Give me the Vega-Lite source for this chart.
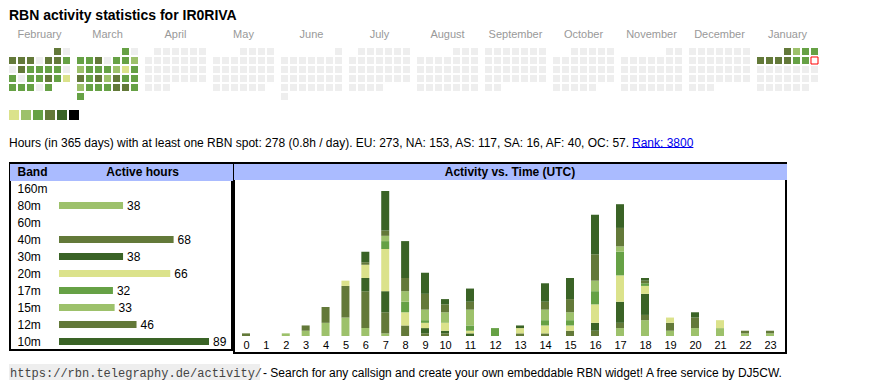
{
  "$schema": "https://vega.github.io/schema/vega-lite/v6.json",
  "background": "white",
  "padding": {"left": 8, "top": 8, "right": 0, "bottom": 0},
  "config": {"font": "Liberation Sans", "view": {"stroke": null}},
  "spacing": 10,
  "resolve": {"scale": {"color": "independent"}},
  "vconcat": [
    {
      "title": {"text": "RBN activity statistics for IR0RIVA", "anchor": "start", "fontSize": 14, "fontWeight": "bold", "color": "#000000", "offset": 6},
      "width": 809,
      "height": 52,
      "data": {"values": [
        {"month":"February","wd":5,"week":0,"level":4},{"month":"February","wd":6,"week":0,"level":0},
        {"month":"February","wd":0,"week":1,"level":4},{"month":"February","wd":1,"week":1,"level":4},{"month":"February","wd":2,"week":1,"level":4},{"month":"February","wd":3,"week":1,"level":0},{"month":"February","wd":4,"week":1,"level":4},{"month":"February","wd":5,"week":1,"level":4},{"month":"February","wd":6,"week":1,"level":3},
        {"month":"February","wd":0,"week":2,"level":0},{"month":"February","wd":1,"week":2,"level":4},{"month":"February","wd":2,"week":2,"level":3},{"month":"February","wd":3,"week":2,"level":3},{"month":"February","wd":4,"week":2,"level":3},{"month":"February","wd":5,"week":2,"level":3},{"month":"February","wd":6,"week":2,"level":0},
        {"month":"February","wd":0,"week":3,"level":3},{"month":"February","wd":1,"week":3,"level":0},{"month":"February","wd":2,"week":3,"level":3},{"month":"February","wd":3,"week":3,"level":3},{"month":"February","wd":4,"week":3,"level":4},{"month":"February","wd":5,"week":3,"level":3},{"month":"February","wd":6,"week":3,"level":1},
        {"month":"February","wd":0,"week":4,"level":3},{"month":"February","wd":1,"week":4,"level":3},{"month":"February","wd":2,"week":4,"level":3},{"month":"February","wd":3,"week":4,"level":0},{"month":"February","wd":4,"week":4,"level":3},
        {"month":"March","wd":5,"week":0,"level":3},{"month":"March","wd":6,"week":0,"level":0},
        {"month":"March","wd":0,"week":1,"level":3},{"month":"March","wd":1,"week":1,"level":3},{"month":"March","wd":2,"week":1,"level":4},{"month":"March","wd":3,"week":1,"level":0},{"month":"March","wd":4,"week":1,"level":3},{"month":"March","wd":5,"week":1,"level":3},{"month":"March","wd":6,"week":1,"level":2},
        {"month":"March","wd":0,"week":2,"level":2},{"month":"March","wd":1,"week":2,"level":3},{"month":"March","wd":2,"week":2,"level":3},{"month":"March","wd":3,"week":2,"level":3},{"month":"March","wd":4,"week":2,"level":2},{"month":"March","wd":5,"week":2,"level":1},{"month":"March","wd":6,"week":2,"level":3},
        {"month":"March","wd":0,"week":3,"level":4},{"month":"March","wd":1,"week":3,"level":3},{"month":"March","wd":2,"week":3,"level":4},{"month":"March","wd":3,"week":3,"level":2},{"month":"March","wd":4,"week":3,"level":4},{"month":"March","wd":5,"week":3,"level":3},{"month":"March","wd":6,"week":3,"level":3},
        {"month":"March","wd":0,"week":4,"level":2},{"month":"March","wd":1,"week":4,"level":3},{"month":"March","wd":2,"week":4,"level":3},{"month":"March","wd":3,"week":4,"level":3},{"month":"March","wd":4,"week":4,"level":4},{"month":"March","wd":5,"week":4,"level":4},{"month":"March","wd":6,"week":4,"level":3},
        {"month":"March","wd":0,"week":5,"level":3},
        {"month":"April","wd":1,"week":0,"level":0},{"month":"April","wd":2,"week":0,"level":0},{"month":"April","wd":3,"week":0,"level":0},{"month":"April","wd":4,"week":0,"level":0},{"month":"April","wd":5,"week":0,"level":0},{"month":"April","wd":6,"week":0,"level":0},
        {"month":"April","wd":0,"week":1,"level":0},{"month":"April","wd":1,"week":1,"level":0},{"month":"April","wd":2,"week":1,"level":0},{"month":"April","wd":3,"week":1,"level":0},{"month":"April","wd":4,"week":1,"level":0},{"month":"April","wd":5,"week":1,"level":0},{"month":"April","wd":6,"week":1,"level":0},
        {"month":"April","wd":0,"week":2,"level":0},{"month":"April","wd":1,"week":2,"level":0},{"month":"April","wd":2,"week":2,"level":0},{"month":"April","wd":3,"week":2,"level":0},{"month":"April","wd":4,"week":2,"level":0},{"month":"April","wd":5,"week":2,"level":0},{"month":"April","wd":6,"week":2,"level":0},
        {"month":"April","wd":0,"week":3,"level":0},{"month":"April","wd":1,"week":3,"level":0},{"month":"April","wd":2,"week":3,"level":0},{"month":"April","wd":3,"week":3,"level":0},{"month":"April","wd":4,"week":3,"level":0},{"month":"April","wd":5,"week":3,"level":0},{"month":"April","wd":6,"week":3,"level":0},
        {"month":"April","wd":0,"week":4,"level":0},{"month":"April","wd":1,"week":4,"level":0},{"month":"April","wd":2,"week":4,"level":0},
        {"month":"May","wd":3,"week":0,"level":0},{"month":"May","wd":4,"week":0,"level":0},{"month":"May","wd":5,"week":0,"level":0},{"month":"May","wd":6,"week":0,"level":0},
        {"month":"May","wd":0,"week":1,"level":0},{"month":"May","wd":1,"week":1,"level":0},{"month":"May","wd":2,"week":1,"level":0},{"month":"May","wd":3,"week":1,"level":0},{"month":"May","wd":4,"week":1,"level":0},{"month":"May","wd":5,"week":1,"level":0},{"month":"May","wd":6,"week":1,"level":0},
        {"month":"May","wd":0,"week":2,"level":0},{"month":"May","wd":1,"week":2,"level":0},{"month":"May","wd":2,"week":2,"level":0},{"month":"May","wd":3,"week":2,"level":0},{"month":"May","wd":4,"week":2,"level":0},{"month":"May","wd":5,"week":2,"level":0},{"month":"May","wd":6,"week":2,"level":0},
        {"month":"May","wd":0,"week":3,"level":0},{"month":"May","wd":1,"week":3,"level":0},{"month":"May","wd":2,"week":3,"level":0},{"month":"May","wd":3,"week":3,"level":0},{"month":"May","wd":4,"week":3,"level":0},{"month":"May","wd":5,"week":3,"level":0},{"month":"May","wd":6,"week":3,"level":0},
        {"month":"May","wd":0,"week":4,"level":0},{"month":"May","wd":1,"week":4,"level":0},{"month":"May","wd":2,"week":4,"level":0},{"month":"May","wd":3,"week":4,"level":0},{"month":"May","wd":4,"week":4,"level":0},{"month":"May","wd":5,"week":4,"level":0},
        {"month":"June","wd":6,"week":0,"level":0},
        {"month":"June","wd":0,"week":1,"level":0},{"month":"June","wd":1,"week":1,"level":0},{"month":"June","wd":2,"week":1,"level":0},{"month":"June","wd":3,"week":1,"level":0},{"month":"June","wd":4,"week":1,"level":0},{"month":"June","wd":5,"week":1,"level":0},{"month":"June","wd":6,"week":1,"level":0},
        {"month":"June","wd":0,"week":2,"level":0},{"month":"June","wd":1,"week":2,"level":0},{"month":"June","wd":2,"week":2,"level":0},{"month":"June","wd":3,"week":2,"level":0},{"month":"June","wd":4,"week":2,"level":0},{"month":"June","wd":5,"week":2,"level":0},{"month":"June","wd":6,"week":2,"level":0},
        {"month":"June","wd":0,"week":3,"level":0},{"month":"June","wd":1,"week":3,"level":0},{"month":"June","wd":2,"week":3,"level":0},{"month":"June","wd":3,"week":3,"level":0},{"month":"June","wd":4,"week":3,"level":0},{"month":"June","wd":5,"week":3,"level":0},{"month":"June","wd":6,"week":3,"level":0},
        {"month":"June","wd":0,"week":4,"level":0},{"month":"June","wd":1,"week":4,"level":0},{"month":"June","wd":2,"week":4,"level":0},{"month":"June","wd":3,"week":4,"level":0},{"month":"June","wd":4,"week":4,"level":0},{"month":"June","wd":5,"week":4,"level":0},{"month":"June","wd":6,"week":4,"level":0},
        {"month":"June","wd":0,"week":5,"level":0},
        {"month":"July","wd":1,"week":0,"level":0},{"month":"July","wd":2,"week":0,"level":0},{"month":"July","wd":3,"week":0,"level":0},{"month":"July","wd":4,"week":0,"level":0},{"month":"July","wd":5,"week":0,"level":0},{"month":"July","wd":6,"week":0,"level":0},
        {"month":"July","wd":0,"week":1,"level":0},{"month":"July","wd":1,"week":1,"level":0},{"month":"July","wd":2,"week":1,"level":0},{"month":"July","wd":3,"week":1,"level":0},{"month":"July","wd":4,"week":1,"level":0},{"month":"July","wd":5,"week":1,"level":0},{"month":"July","wd":6,"week":1,"level":0},
        {"month":"July","wd":0,"week":2,"level":0},{"month":"July","wd":1,"week":2,"level":0},{"month":"July","wd":2,"week":2,"level":0},{"month":"July","wd":3,"week":2,"level":0},{"month":"July","wd":4,"week":2,"level":0},{"month":"July","wd":5,"week":2,"level":0},{"month":"July","wd":6,"week":2,"level":0},
        {"month":"July","wd":0,"week":3,"level":0},{"month":"July","wd":1,"week":3,"level":0},{"month":"July","wd":2,"week":3,"level":0},{"month":"July","wd":3,"week":3,"level":0},{"month":"July","wd":4,"week":3,"level":0},{"month":"July","wd":5,"week":3,"level":0},{"month":"July","wd":6,"week":3,"level":0},
        {"month":"July","wd":0,"week":4,"level":0},{"month":"July","wd":1,"week":4,"level":0},{"month":"July","wd":2,"week":4,"level":0},{"month":"July","wd":3,"week":4,"level":0},
        {"month":"August","wd":4,"week":0,"level":0},{"month":"August","wd":5,"week":0,"level":0},{"month":"August","wd":6,"week":0,"level":0},
        {"month":"August","wd":0,"week":1,"level":0},{"month":"August","wd":1,"week":1,"level":0},{"month":"August","wd":2,"week":1,"level":0},{"month":"August","wd":3,"week":1,"level":0},{"month":"August","wd":4,"week":1,"level":0},{"month":"August","wd":5,"week":1,"level":0},{"month":"August","wd":6,"week":1,"level":0},
        {"month":"August","wd":0,"week":2,"level":0},{"month":"August","wd":1,"week":2,"level":0},{"month":"August","wd":2,"week":2,"level":0},{"month":"August","wd":3,"week":2,"level":0},{"month":"August","wd":4,"week":2,"level":0},{"month":"August","wd":5,"week":2,"level":0},{"month":"August","wd":6,"week":2,"level":0},
        {"month":"August","wd":0,"week":3,"level":0},{"month":"August","wd":1,"week":3,"level":0},{"month":"August","wd":2,"week":3,"level":0},{"month":"August","wd":3,"week":3,"level":0},{"month":"August","wd":4,"week":3,"level":0},{"month":"August","wd":5,"week":3,"level":0},{"month":"August","wd":6,"week":3,"level":0},
        {"month":"August","wd":0,"week":4,"level":0},{"month":"August","wd":1,"week":4,"level":0},{"month":"August","wd":2,"week":4,"level":0},{"month":"August","wd":3,"week":4,"level":0},{"month":"August","wd":4,"week":4,"level":0},{"month":"August","wd":5,"week":4,"level":0},{"month":"August","wd":6,"week":4,"level":0},
        {"month":"September","wd":0,"week":0,"level":0},{"month":"September","wd":1,"week":0,"level":0},{"month":"September","wd":2,"week":0,"level":0},{"month":"September","wd":3,"week":0,"level":0},{"month":"September","wd":4,"week":0,"level":0},{"month":"September","wd":5,"week":0,"level":0},{"month":"September","wd":6,"week":0,"level":0},
        {"month":"September","wd":0,"week":1,"level":0},{"month":"September","wd":1,"week":1,"level":0},{"month":"September","wd":2,"week":1,"level":0},{"month":"September","wd":3,"week":1,"level":0},{"month":"September","wd":4,"week":1,"level":0},{"month":"September","wd":5,"week":1,"level":0},{"month":"September","wd":6,"week":1,"level":0},
        {"month":"September","wd":0,"week":2,"level":0},{"month":"September","wd":1,"week":2,"level":0},{"month":"September","wd":2,"week":2,"level":0},{"month":"September","wd":3,"week":2,"level":0},{"month":"September","wd":4,"week":2,"level":0},{"month":"September","wd":5,"week":2,"level":0},{"month":"September","wd":6,"week":2,"level":0},
        {"month":"September","wd":0,"week":3,"level":0},{"month":"September","wd":1,"week":3,"level":0},{"month":"September","wd":2,"week":3,"level":0},{"month":"September","wd":3,"week":3,"level":0},{"month":"September","wd":4,"week":3,"level":0},{"month":"September","wd":5,"week":3,"level":0},{"month":"September","wd":6,"week":3,"level":0},
        {"month":"September","wd":0,"week":4,"level":0},{"month":"September","wd":1,"week":4,"level":0},
        {"month":"October","wd":2,"week":0,"level":0},{"month":"October","wd":3,"week":0,"level":0},{"month":"October","wd":4,"week":0,"level":0},{"month":"October","wd":5,"week":0,"level":0},{"month":"October","wd":6,"week":0,"level":0},
        {"month":"October","wd":0,"week":1,"level":0},{"month":"October","wd":1,"week":1,"level":0},{"month":"October","wd":2,"week":1,"level":0},{"month":"October","wd":3,"week":1,"level":0},{"month":"October","wd":4,"week":1,"level":0},{"month":"October","wd":5,"week":1,"level":0},{"month":"October","wd":6,"week":1,"level":0},
        {"month":"October","wd":0,"week":2,"level":0},{"month":"October","wd":1,"week":2,"level":0},{"month":"October","wd":2,"week":2,"level":0},{"month":"October","wd":3,"week":2,"level":0},{"month":"October","wd":4,"week":2,"level":0},{"month":"October","wd":5,"week":2,"level":0},{"month":"October","wd":6,"week":2,"level":0},
        {"month":"October","wd":0,"week":3,"level":0},{"month":"October","wd":1,"week":3,"level":0},{"month":"October","wd":2,"week":3,"level":0},{"month":"October","wd":3,"week":3,"level":0},{"month":"October","wd":4,"week":3,"level":0},{"month":"October","wd":5,"week":3,"level":0},{"month":"October","wd":6,"week":3,"level":0},
        {"month":"October","wd":0,"week":4,"level":0},{"month":"October","wd":1,"week":4,"level":0},{"month":"October","wd":2,"week":4,"level":0},{"month":"October","wd":3,"week":4,"level":0},{"month":"October","wd":4,"week":4,"level":0},
        {"month":"November","wd":5,"week":0,"level":0},{"month":"November","wd":6,"week":0,"level":0},
        {"month":"November","wd":0,"week":1,"level":0},{"month":"November","wd":1,"week":1,"level":0},{"month":"November","wd":2,"week":1,"level":0},{"month":"November","wd":3,"week":1,"level":0},{"month":"November","wd":4,"week":1,"level":0},{"month":"November","wd":5,"week":1,"level":0},{"month":"November","wd":6,"week":1,"level":0},
        {"month":"November","wd":0,"week":2,"level":0},{"month":"November","wd":1,"week":2,"level":0},{"month":"November","wd":2,"week":2,"level":0},{"month":"November","wd":3,"week":2,"level":0},{"month":"November","wd":4,"week":2,"level":0},{"month":"November","wd":5,"week":2,"level":0},{"month":"November","wd":6,"week":2,"level":0},
        {"month":"November","wd":0,"week":3,"level":0},{"month":"November","wd":1,"week":3,"level":0},{"month":"November","wd":2,"week":3,"level":0},{"month":"November","wd":3,"week":3,"level":0},{"month":"November","wd":4,"week":3,"level":0},{"month":"November","wd":5,"week":3,"level":0},{"month":"November","wd":6,"week":3,"level":0},
        {"month":"November","wd":0,"week":4,"level":0},{"month":"November","wd":1,"week":4,"level":0},{"month":"November","wd":2,"week":4,"level":0},{"month":"November","wd":3,"week":4,"level":0},{"month":"November","wd":4,"week":4,"level":0},{"month":"November","wd":5,"week":4,"level":0},{"month":"November","wd":6,"week":4,"level":0},
        {"month":"December","wd":0,"week":0,"level":0},{"month":"December","wd":1,"week":0,"level":0},{"month":"December","wd":2,"week":0,"level":0},{"month":"December","wd":3,"week":0,"level":0},{"month":"December","wd":4,"week":0,"level":0},{"month":"December","wd":5,"week":0,"level":0},{"month":"December","wd":6,"week":0,"level":0},
        {"month":"December","wd":0,"week":1,"level":0},{"month":"December","wd":1,"week":1,"level":0},{"month":"December","wd":2,"week":1,"level":0},{"month":"December","wd":3,"week":1,"level":0},{"month":"December","wd":4,"week":1,"level":0},{"month":"December","wd":5,"week":1,"level":0},{"month":"December","wd":6,"week":1,"level":0},
        {"month":"December","wd":0,"week":2,"level":0},{"month":"December","wd":1,"week":2,"level":0},{"month":"December","wd":2,"week":2,"level":0},{"month":"December","wd":3,"week":2,"level":0},{"month":"December","wd":4,"week":2,"level":0},{"month":"December","wd":5,"week":2,"level":0},{"month":"December","wd":6,"week":2,"level":0},
        {"month":"December","wd":0,"week":3,"level":0},{"month":"December","wd":1,"week":3,"level":0},{"month":"December","wd":2,"week":3,"level":0},{"month":"December","wd":3,"week":3,"level":0},{"month":"December","wd":4,"week":3,"level":0},{"month":"December","wd":5,"week":3,"level":0},{"month":"December","wd":6,"week":3,"level":0},
        {"month":"December","wd":0,"week":4,"level":0},{"month":"December","wd":1,"week":4,"level":0},{"month":"December","wd":2,"week":4,"level":0},
        {"month":"January","wd":3,"week":0,"level":4},{"month":"January","wd":4,"week":0,"level":2},{"month":"January","wd":5,"week":0,"level":3},{"month":"January","wd":6,"week":0,"level":3},
        {"month":"January","wd":0,"week":1,"level":4},{"month":"January","wd":1,"week":1,"level":4},{"month":"January","wd":2,"week":1,"level":4},{"month":"January","wd":3,"week":1,"level":4},{"month":"January","wd":4,"week":1,"level":3},{"month":"January","wd":5,"week":1,"level":3},{"month":"January","wd":6,"week":1,"level":0,"today":true},
        {"month":"January","wd":0,"week":2,"level":0},{"month":"January","wd":1,"week":2,"level":0},{"month":"January","wd":2,"week":2,"level":0},{"month":"January","wd":3,"week":2,"level":0},{"month":"January","wd":4,"week":2,"level":0},{"month":"January","wd":5,"week":2,"level":0},{"month":"January","wd":6,"week":2,"level":0},
        {"month":"January","wd":0,"week":3,"level":0},{"month":"January","wd":1,"week":3,"level":0},{"month":"January","wd":2,"week":3,"level":0},{"month":"January","wd":3,"week":3,"level":0},{"month":"January","wd":4,"week":3,"level":0},{"month":"January","wd":5,"week":3,"level":0},{"month":"January","wd":6,"week":3,"level":0},
        {"month":"January","wd":0,"week":4,"level":0},{"month":"January","wd":1,"week":4,"level":0},{"month":"January","wd":2,"week":4,"level":0},{"month":"January","wd":3,"week":4,"level":0},{"month":"January","wd":4,"week":4,"level":0},{"month":"January","wd":5,"week":4,"level":0}
      ]},
      "mark": {"type": "rect", "stroke": "#ff0000"},
      "encoding": {
        "x": {"field": "month", "type": "nominal",
          "scale": {"domain": ["February","March","April","May","June","July","August","September","October","November","December","January"], "range": [-1, 808], "paddingInner": 0.10294, "paddingOuter": 0},
          "axis": {"orient": "top", "title": null, "domain": false, "ticks": false, "tickSize": 0, "grid": false, "labelPadding": 10.5, "labelBaseline": "alphabetic", "labelFontSize": 11, "labelColor": "#999999", "labelFont": "Liberation Sans", "labelAngle": 0}},
        "xOffset": {"field": "wd", "type": "ordinal", "scale": {"domain": [0,1,2,3,4,5,6], "paddingInner": 0.2222, "paddingOuter": 0}},
        "y": {"field": "week", "type": "ordinal", "scale": {"domain": [0,1,2,3,4,5], "paddingInner": 0.2222, "paddingOuter": 0}, "axis": null},
        "color": {"condition": {"test": "datum.today", "value": "#ffffff"}, "field": "level", "type": "ordinal",
          "scale": {"domain": [0,1,2,3,4,5,6], "range": ["#eeeeee","#dbe28b","#9dc16b","#66a145","#637939","#3a6326","#000000"]}, "legend": null},
        "strokeWidth": {"condition": {"test": "datum.today", "value": 1}, "value": 0}
      }
    },
    {
      "width": 70,
      "height": 10,
      "data": {"values": [{"level":1},{"level":2},{"level":3},{"level":4},{"level":5},{"level":6}]},
      "mark": {"type": "rect"},
      "encoding": {
        "x": {"field": "level", "type": "ordinal", "scale": {"range": [-1, 69], "paddingInner": 0.16667, "paddingOuter": 0}, "axis": null},
        "color": {"field": "level", "type": "ordinal", "scale": {"domain": [1,2,3,4,5,6], "range": ["#dbe28b","#9dc16b","#66a145","#637939","#3a6326","#000000"]}, "legend": null}
      }
    },
    {
      "width": 776,
      "height": 22,
      "data": {"values": [
        {"part": "stats", "text": "Hours (in 365 days) with at least one RBN spot: 278 (0.8h / day). EU: 273, NA: 153, AS: 117, SA: 16, AF: 40, OC: 57."},
        {"part": "rank", "text": "Rank: 3800"}
      ]},
      "encoding": {
        "x": {"field": "part", "type": "nominal", "scale": {"type": "point", "domain": ["stats","rank"], "range": [-1, 622], "padding": 0}, "axis": null}
      },
      "layer": [
        {"mark": {"type": "text", "align": "left", "baseline": "middle", "fontSize": 12, "font": "Liberation Sans", "dy": 1.5},
         "encoding": {"text": {"field": "text"}, "color": {"condition": {"test": "datum.part == 'rank'", "value": "#0000ee"}, "value": "#000000"}}},
        {"transform": [{"filter": "datum.part == 'rank'"}],
         "mark": {"type": "rule", "color": "#0000ee", "strokeWidth": 1, "x2Offset": 61.4, "yOffset": 6.5},
         "encoding": {"x2": {"field": "part"}}}
      ]
    },
    {
      "bounds": "flush",
      "spacing": 2,
      "hconcat": [
        {
          "width": 222,
          "height": 187,
          "view": {"stroke": "#000000", "strokeWidth": 2},
          "encoding": {
            "y": {"field": "band", "type": "nominal",
              "scale": {"domain": ["header","160m","80m","60m","40m","30m","20m","17m","15m","12m","10m"], "paddingInner": 0, "paddingOuter": 0},
              "axis": {"orient": "left", "title": null, "domain": false, "ticks": false, "tickSize": 0, "grid": false, "labelPadding": -7, "labelAlign": "left", "labelBaseline": "middle", "labelFontSize": 12, "labelColor": "#000000", "labelFont": "Liberation Sans",
                "labelExpr": "datum.value == 'header' ? 'Band' : datum.value",
                "labelFontWeight": {"condition": {"test": "datum.value == 'header'", "value": "bold"}, "value": "normal"}}}
          },
          "resolve": {"scale": {"x": "independent"}},
          "layer": [
            {"data": {"values": [{"band": "header", "label": "Active hours"}]},
             "layer": [
               {"mark": {"type": "rect", "color": "#aabbff", "xOffset": 1, "x2Offset": -1, "yOffset": 1}, "encoding": {}},
               {"mark": {"type": "text", "fontSize": 12, "fontWeight": "bold", "baseline": "middle", "dx": 21.7, "color": "#000000"}, "encoding": {"text": {"field": "label"}}}
             ]},
            {"data": {"values": [
               {"band": "80m", "hours": 38}, {"band": "40m", "hours": 68}, {"band": "30m", "hours": 38}, {"band": "20m", "hours": 66},
               {"band": "17m", "hours": 32}, {"band": "15m", "hours": 33}, {"band": "12m", "hours": 46}, {"band": "10m", "hours": 89}
             ]},
             "encoding": {"x": {"field": "hours", "type": "quantitative", "scale": {"domain": [0, 89], "range": [49, 199], "nice": false}, "axis": null}},
             "layer": [
               {"mark": {"type": "bar", "height": 7},
                "encoding": {"color": {"field": "band", "type": "nominal", "scale": {"domain": ["80m","40m","30m","20m","17m","15m","12m","10m"], "range": ["#9dc16b","#637939","#3a6326","#dbe28b","#66a145","#9dc16b","#637939","#3a6326"]}, "legend": null}}},
               {"mark": {"type": "text", "align": "left", "baseline": "middle", "dx": 4, "fontSize": 12, "color": "#000000"},
                "encoding": {"text": {"field": "hours", "type": "quantitative"}}}
             ]}
          ]
        },
        {
          "width": 552,
          "height": 190,
          "view": {"stroke": "#000000", "strokeWidth": 2},
          "resolve": {"scale": {"x": "independent", "y": "independent"}},
          "layer": [
            {"data": {"values": [{"section": "header", "label": "Activity vs. Time (UTC)"}]},
             "encoding": {"y": {"field": "section", "type": "nominal", "scale": {"domain": ["header"], "range": [1, 17], "paddingInner": 0, "paddingOuter": 0}, "axis": null}},
             "layer": [
               {"mark": {"type": "rect", "color": "#aabbff", "xOffset": 1, "x2Offset": -1}, "encoding": {}},
               {"mark": {"type": "text", "fontSize": 12, "fontWeight": "bold", "baseline": "middle", "color": "#000000"}, "encoding": {"text": {"field": "label"}}}
             ]},
            {"data": {"values": [
               {"hour":0,"band":"40m","n":1},
               {"hour":2,"band":"80m","n":1},
               {"hour":3,"band":"80m","n":2},{"hour":3,"band":"40m","n":2},
               {"hour":4,"band":"80m","n":5},{"hour":4,"band":"40m","n":6},
               {"hour":5,"band":"80m","n":7},{"hour":5,"band":"40m","n":12},{"hour":5,"band":"20m","n":2},
               {"hour":6,"band":"80m","n":3},{"hour":6,"band":"40m","n":14},{"hour":6,"band":"30m","n":5},{"hour":6,"band":"20m","n":5},{"hour":6,"band":"12m","n":1},{"hour":6,"band":"10m","n":4},
               {"hour":7,"band":"80m","n":1},{"hour":7,"band":"40m","n":8},{"hour":7,"band":"30m","n":8},{"hour":7,"band":"20m","n":16},{"hour":7,"band":"17m","n":3},{"hour":7,"band":"15m","n":2},{"hour":7,"band":"12m","n":2},{"hour":7,"band":"10m","n":15},
               {"hour":8,"band":"40m","n":4},{"hour":8,"band":"20m","n":5},{"hour":8,"band":"17m","n":4},{"hour":8,"band":"15m","n":4},{"hour":8,"band":"12m","n":5},{"hour":8,"band":"10m","n":14},
               {"hour":9,"band":"40m","n":1},{"hour":9,"band":"30m","n":2},{"hour":9,"band":"20m","n":2},{"hour":9,"band":"17m","n":1},{"hour":9,"band":"15m","n":4},{"hour":9,"band":"12m","n":6},{"hour":9,"band":"10m","n":8},
               {"hour":10,"band":"40m","n":1},{"hour":10,"band":"30m","n":1},{"hour":10,"band":"20m","n":3},{"hour":10,"band":"15m","n":4},{"hour":10,"band":"12m","n":3},{"hour":10,"band":"10m","n":2},
               {"hour":11,"band":"30m","n":1},{"hour":11,"band":"20m","n":1},{"hour":11,"band":"17m","n":2},{"hour":11,"band":"15m","n":6},{"hour":11,"band":"12m","n":3},{"hour":11,"band":"10m","n":5},
               {"hour":12,"band":"17m","n":3},
               {"hour":13,"band":"40m","n":1},{"hour":13,"band":"20m","n":2},{"hour":13,"band":"10m","n":1},
               {"hour":14,"band":"40m","n":1},{"hour":14,"band":"20m","n":3},{"hour":14,"band":"17m","n":2},{"hour":14,"band":"15m","n":4},{"hour":14,"band":"12m","n":3},{"hour":14,"band":"10m","n":7},
               {"hour":15,"band":"40m","n":2},{"hour":15,"band":"20m","n":2},{"hour":15,"band":"17m","n":2},{"hour":15,"band":"15m","n":3},{"hour":15,"band":"12m","n":5},{"hour":15,"band":"10m","n":8},
               {"hour":16,"band":"40m","n":2},{"hour":16,"band":"30m","n":3},{"hour":16,"band":"20m","n":7},{"hour":16,"band":"17m","n":5},{"hour":16,"band":"15m","n":4},{"hour":16,"band":"12m","n":10},{"hour":16,"band":"10m","n":15},
               {"hour":17,"band":"80m","n":3},{"hour":17,"band":"40m","n":2},{"hour":17,"band":"30m","n":8},{"hour":17,"band":"20m","n":10},{"hour":17,"band":"17m","n":9},{"hour":17,"band":"15m","n":2},{"hour":17,"band":"12m","n":7},{"hour":17,"band":"10m","n":9},
               {"hour":18,"band":"80m","n":6},{"hour":18,"band":"40m","n":2},{"hour":18,"band":"30m","n":8},{"hour":18,"band":"20m","n":3},{"hour":18,"band":"17m","n":1},{"hour":18,"band":"12m","n":1},{"hour":18,"band":"10m","n":1},
               {"hour":19,"band":"80m","n":2},{"hour":19,"band":"40m","n":3},{"hour":19,"band":"20m","n":2},
               {"hour":20,"band":"80m","n":3},{"hour":20,"band":"40m","n":4},{"hour":20,"band":"30m","n":2},
               {"hour":21,"band":"80m","n":3},{"hour":21,"band":"20m","n":3},
               {"hour":22,"band":"80m","n":1},{"hour":22,"band":"40m","n":1},
               {"hour":23,"band":"80m","n":1},{"hour":23,"band":"40m","n":1}
             ]},
             "mark": {"type": "bar", "width": 8},
             "encoding": {
               "x": {"field": "hour", "type": "quantitative",
                 "scale": {"domain": [0, 9, 10, 23], "range": [12, 191, 211, 536], "nice": false, "zero": false, "padding": 0},
                 "axis": {"orient": "bottom", "values": [0,1,2,3,4,5,6,7,8,9,10,11,12,13,14,15,16,17,18,19,20,21,22,23], "format": "d", "title": null, "domain": false, "ticks": false, "tickSize": 0, "grid": false, "labelPadding": -8, "labelBaseline": "middle", "labelFontSize": 11, "labelColor": "#000000", "labelFont": "Liberation Sans", "labelFlush": false, "labelOverlap": false, "labelBound": false}},
               "y": {"field": "n", "type": "quantitative", "stack": "zero", "scale": {"domain": [0, 65.63], "range": [173, 0], "nice": false}, "axis": null},
               "color": {"field": "band", "type": "nominal", "scale": {"domain": ["80m","40m","30m","20m","17m","15m","12m","10m"], "range": ["#9dc16b","#637939","#3a6326","#dbe28b","#66a145","#9dc16b","#637939","#3a6326"]}, "legend": null},
               "order": {"field": "band", "sort": "descending"}
             }}
          ]
        }
      ]
    },
    {
      "width": 776,
      "height": 16,
      "data": {"values": [
        {"part": "url", "text": "https://rbn.telegraphy.de/activity/"},
        {"part": "rest", "text": "- Search for any callsign and create your own embeddable RBN widget! A free service by DJ5CW."}
      ]},
      "encoding": {
        "x": {"field": "part", "type": "nominal", "scale": {"type": "point", "domain": ["url","rest"], "range": [-1, 250], "padding": 0}, "axis": null}
      },
      "layer": [
        {"transform": [{"filter": "datum.part == 'url'"}],
         "mark": {"type": "rect", "color": "#eeeeee"},
         "encoding": {"x2": {"datum": "rest"}}},
        {"transform": [{"filter": "datum.part == 'url'"}],
         "mark": {"type": "text", "align": "left", "baseline": "middle", "fontSize": 12, "font": "Liberation Mono", "color": "#444444", "dx": 1, "dy": 1},
         "encoding": {"text": {"field": "text"}}},
        {"transform": [{"filter": "datum.part == 'rest'"}],
         "mark": {"type": "text", "align": "left", "baseline": "middle", "fontSize": 12, "font": "Liberation Sans", "color": "#000000", "dx": 3, "dy": 1},
         "encoding": {"text": {"field": "text"}}}
      ]
    }
  ]
}
